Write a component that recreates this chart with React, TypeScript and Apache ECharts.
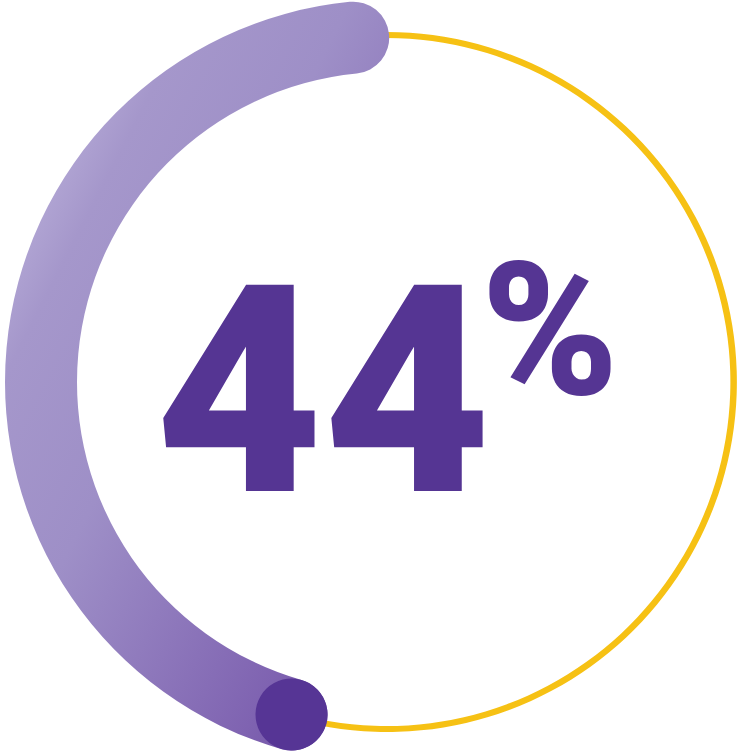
import { useEffect, useRef } from 'react'
import * as echarts from 'echarts'

// share shown by the ring, in percent
const progressValues = [44]
const progressMax = 100
const valueSuffix = '%'

const CX = 387
const CY = 382
const START = 95.6

export default function App() {
  const chartRef = useRef<HTMLDivElement>(null)

  useEffect(() => {
    if (!chartRef.current) return
    const myChart = echarts.init(chartRef.current, null, { renderer: 'svg' })

    const hidden = {
      splitLine: { show: false },
      axisTick: { show: false },
      axisLabel: { show: false },
      anchor: { show: false },
    }

    const ring = {
      type: 'gauge',
      center: [CX, CY],
      startAngle: START,
      endAngle: START + 360,
      clockwise: false,
      min: 0,
      max: progressMax,
    }

    const option = {
      animation: false,
      series: [
        {
          // thin yellow track
          ...ring,
          radius: 350,
          axisLine: { lineStyle: { width: 6, color: [[1, '#f6c114']] } },
          pointer: { show: false },
          detail: { show: false },
          title: { show: false },
          ...hidden,
          data: [{ value: 0 }],
        },
        {
          // thick purple progress arc with the number
          ...ring,
          radius: 382,
          axisLine: { show: false },
          progress: {
            show: true,
            width: 72,
            roundCap: true,
            itemStyle: {
              color: new echarts.graphic.LinearGradient(0, 0, 1, 1, [
                { offset: 0, color: '#bcb2db' },
                { offset: 0.15, color: '#b6abd7' },
                { offset: 0.25, color: '#a597cb' },
                { offset: 0.45, color: '#9e8fc7' },
                { offset: 0.8, color: '#7f63b1' },
                { offset: 1, color: '#62419a' },
              ]),
            },
          },
          pointer: { show: false },
          ...hidden,
          detail: {
            show: true,
            offsetCenter: [-64, 10],
            formatter: '{value}',
            fontFamily: 'Roboto',
            fontWeight: 900,
            fontSize: 290,
            color: '#553593',
          },
          title: {
            show: true,
            offsetCenter: [163, -52],
            fontFamily: 'Roboto',
            fontWeight: 900,
            fontSize: 185,
            color: '#553593',
          },
          data: progressValues.map((value) => ({ value, name: valueSuffix })),
        },
        {
          // dark round cap at the end of the progress
          ...ring,
          z: 5,
          radius: 382,
          axisLine: { show: false },
          pointer: {
            show: true,
            icon: 'circle',
            width: 72,
            length: 72,
            offsetCenter: [0, -310],
            itemStyle: { color: '#563595' },
          },
          detail: { show: false },
          title: { show: false },
          ...hidden,
          data: progressValues.map((value) => ({ value })),
        },
      ],
    }

    myChart.setOption(option as any)

    return () => {
      myChart.dispose()
    }
  }, [])

  return (
    <div
      ref={chartRef}
      style={{ position: 'fixed', left: 0, top: 0, width: '744px', height: '753px' }}
    />
  )
}
